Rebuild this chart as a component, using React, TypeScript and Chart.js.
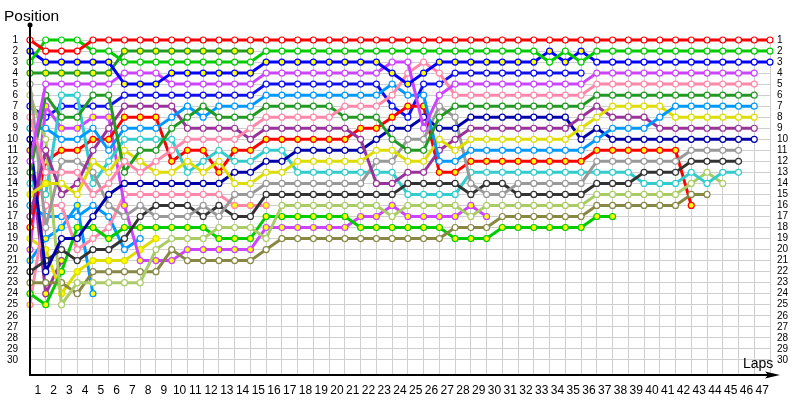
import React, { useEffect, useRef } from "react";
import { Chart, registerables } from "chart.js";
Chart.register(...registerables);

const N = null;

// Lap numbers shown on the x axis
const lapNumbers = [0,1,2,3,4,5,6,7,8,9,10,11,12,13,14,15,16,17,18,19,20,21,22,23,24,25,26,27,28,29,30,31,32,33,34,35,36,37,38,39,40,41,42,43,44,45,46,47];
// Position rows
const positionTicks = [1,2,3,4,5,6,7,8,9,10,11,12,13,14,15,16,17,18,19,20,21,22,23,24,25,26,27,28,29,30];

// Positions per lap (index = lap 0..47)
const R1 = [1,2,2,2,1,1,1,1,1,1, 1,1,1,1,1,1,1,1,1,1, 1,1,1,1,1,1,1,1,1,1, 1,1,1,1,1,1,1,1,1,1, 1,1,1,1,1,1,1,1];
const G1 = [3,1,1,1,2,2,3,3,3,3, 3,3,3,3,3,2,2,2,2,2, 2,2,2,2,2,2,2,2,2,2, 2,2,2,3,2,3,2,2,2,2, 2,2,2,2,2,2,2,2];
const B1 = [2,3,3,3,3,3,5,5,5,4, 4,4,4,4,4,3,3,3,3,3, 3,3,3,4,5,4,3,3,3,3, 3,3,3,2,3,2,3,3,3,3, 3,3,3,3,3,3,3,3];
const M1 = [12,5,5,5,5,5,4,4,4,5, 5,5,5,5,5,4,4,4,4,4, 4,4,4,3,3,9,6,5,5,5, 5,5,5,5,5,5,4,4,4,4, 4,4,4,4,4,4,4,N];
const P1 = [8,13,13,13,15,14,12,13,12,11, 10,10,10,10,9,8,8,8,8,8, 7,7,7,6,4,3,4,6,6,6, 6,6,6,6,6,6,5,5,5,5, 5,5,5,5,5,5,5,N];
const DG1 = [13,6,8,8,6,6,13,11,11,9, 8,7,8,8,8,7,7,7,7,7, 8,8,8,10,11,11,8,7,7,7, 7,7,7,7,7,7,6,6,6,6, 6,6,6,6,6,6,6,N];
const LB1 = [9,9,10,10,9,11,9,9,9,8, 7,8,7,7,7,6,6,6,6,6, 6,6,6,5,6,6,12,12,11,11, 11,11,11,11,11,11,10,9,9,9, 8,7,7,7,7,7,7,N];
const Y1 = [15,14,14,15,12,13,11,12,13,13, 12,13,12,14,14,13,13,12,12,12, 12,12,11,11,12,12,10,11,10,10, 10,10,10,10,10,9,8,7,7,7, 7,8,8,8,8,8,8,N];
const PU1 = [17,11,15,14,11,9,7,7,7,7, 9,9,9,9,10,9,9,9,9,9, 9,10,14,14,13,13,11,10,9,9, 9,9,9,9,9,8,7,8,8,8, 9,9,9,9,9,9,9,N];
const BB = [10,22,19,19,17,15,14,14,14,14, 14,14,14,13,13,12,12,11,11,11, 11,11,10,9,9,8,9,9,8,8, 8,8,8,8,8,10,9,10,10,10, 10,10,10,10,10,10,10,N];
const GR = [5,18,12,12,13,16,17,16,17,17, 17,16,17,15,15,14,14,14,14,14, 14,14,12,12,10,10,7,8,14,15, 15,14,14,14,14,14,12,12,12,12, 12,12,11,11,11,11,N,N];
const BK = [22,21,20,21,20,20,19,17,16,16, 16,17,16,17,17,15,15,15,15,15, 15,15,15,15,14,14,14,14,15,14, 14,15,15,15,15,15,14,14,14,13, 13,13,12,12,12,12,N,N];
const CY = [14,15,6,6,14,12,10,10,10,10, 13,12,11,12,12,11,11,13,13,13, 13,13,13,13,15,15,15,15,13,13, 13,13,13,13,13,13,13,13,13,14, 14,14,13,14,13,13,N,N];
const LG = [6,10,25,23,23,23,23,23,20,19, 19,19,18,18,18,19,16,16,16,16, 16,16,16,17,16,16,16,16,17,16, 16,16,16,16,16,16,15,15,15,15, 15,15,14,13,14,N,N,N];
const OL = [23,23,23,24,22,22,22,22,22,20, 21,21,21,21,21,20,19,19,19,19, 19,19,19,19,19,19,19,18,18,18, 17,17,17,17,17,17,16,16,16,16, 16,16,15,15,N,N,N,N];
const R2 = [18,12,11,11,10,10,8,8,8,12, 11,11,13,11,11,10,10,10,10,10, 10,9,9,8,7,7,13,13,12,12, 12,12,12,12,12,12,11,11,11,11, 11,11,16,N,N,N,N,N];
const G2 = [24,25,22,18,18,19,18,18,18,18, 18,18,19,19,19,17,17,17,17,17, 17,18,18,18,18,18,18,19,19,19, 18,18,18,18,18,18,17,17,N,N, N,N,N,N,N,N,N,N];
const M2 = [20,7,9,9,8,8,16,21,21,21, 20,20,20,20,20,18,18,18,18,18, 18,17,17,16,17,17,17,17,16,17, N,N,N,N,N,N,N,N,N,N, N,N,N,N,N,N,N,N];
const BA = [7,8,7,7,7,7,6,6,6,6, 6,6,6,6,6,5,5,5,5,5, 5,5,5,7,8,5,5,4,4,4, 4,4,4,4,4,4,N,N,N,N, N,N,N,N,N,N,N,N];
const DG2 = [4,4,4,4,4,4,2,2,2,2, 2,2,2,2,2,N,N,N,N,N, N,N,N,N,N,N,N,N,N,N, N,N,N,N,N,N,N,N,N,N, N,N,N,N,N,N,N,N];
const P2 = [25,16,16,20,19,18,15,15,15,15, 15,15,15,16,16,16,N,N,N,N, N,N,N,N,N,N,N,N,N,N, N,N,N,N,N,N,N,N,N,N, N,N,N,N,N,N,N,N];
const Y2 = [19,20,24,22,21,21,21,20,19,N, N,N,N,N,N,N,N,N,N,N, N,N,N,N,N,N,N,N,N,N, N,N,N,N,N,N,N,N,N,N, N,N,N,N,N,N,N,N];
const LB2 = [16,17,17,17,16,17,20,19,N,N, N,N,N,N,N,N,N,N,N,N, N,N,N,N,N,N,N,N,N,N, N,N,N,N,N,N,N,N,N,N, N,N,N,N,N,N,N,N];
const LB3 = [21,19,18,16,24,N,N,N,N,N, N,N,N,N,N,N,N,N,N,N, N,N,N,N,N,N,N,N,N,N, N,N,N,N,N,N,N,N,N,N, N,N,N,N,N,N,N,N];
const PU2 = [11,24,21,N,N,N,N,N,N,N, N,N,N,N,N,N,N,N,N,N, N,N,N,N,N,N,N,N,N,N, N,N,N,N,N,N,N,N,N,N, N,N,N,N,N,N,N,N];

// Series in drawing order (first = on top)
const seriesData = [R1, G1, B1, M1, P1, DG1, LB1, Y1, PU1, BB, GR, BK, CY, LG, OL, R2, G2, M2, BA, DG2, P2, Y2, LB2, LB3, PU2];
const seriesColors = ["#ff0000","#00cc00","#0000ff","#cc44ff","#ff88aa","#229922","#0099ff","#dddd00","#993399","#0000aa","#999999","#333333","#33cccc","#aacc66","#888844","#ff0000","#00cc00","#cc44ff","#1010ee","#229922","#ff88aa","#dddd00","#0099ff","#0099ff","#993399"];
// Laps with yellow-filled markers [from, to] per series
const yellowLaps = [[],[],[[0,35]],[],[],[],[],[[0,1]],[],[],[],[],[],[],[],[[0,47]],[[0,47]],[[0,47]],[],[[0,47]],[[0,0],[13,15]],[[0,47]],[],[[0,47]],[[0,47]]];

const FONT = '"Liberation Sans", Arial, sans-serif';

const axisPlugin = {
  id: "lapAxes",
  afterDraw(chart: any) {
    const { ctx, chartArea: ca } = chart;
    ctx.save();
    ctx.strokeStyle = "#000";
    ctx.fillStyle = "#000";
    ctx.lineWidth = 2;
    ctx.beginPath();
    ctx.moveTo(ca.left, 25);
    ctx.lineTo(ca.left, ca.bottom);
    ctx.lineTo(772, ca.bottom);
    ctx.stroke();
    ctx.beginPath();
    ctx.arc(ca.left, 25, 2.5, 0, Math.PI * 2);
    ctx.fill();
    ctx.beginPath();
    ctx.moveTo(780, ca.bottom);
    ctx.lineTo(765, ca.bottom - 3.5);
    ctx.lineTo(768, ca.bottom);
    ctx.lineTo(765, ca.bottom + 3.5);
    ctx.closePath();
    ctx.fill();
    ctx.font = "15.5px " + FONT;
    ctx.textBaseline = "alphabetic";
    ctx.textAlign = "left";
    ctx.fillText("Position", 4, 21);
    ctx.font = "14px " + FONT;
    ctx.fillText("Laps", 743, 368);
    ctx.restore();
  },
};

export default function App() {
  const ref = useRef<HTMLCanvasElement | null>(null);
  useEffect(() => {
    if (!ref.current) return;
    const datasets = seriesData.map((arr, si) => {
      const color = seriesColors[si];
      const ranges = yellowLaps[si];
      const fills = arr.map((_, lap) =>
        ranges.some((r) => lap >= r[0] && lap <= r[1]) ? "#ffff00" : "#ffffff"
      );
      return {
        data: arr.map((v, lap) => ({ x: lapNumbers[lap], y: v })),
        borderColor: color,
        backgroundColor: color,
        borderWidth: 3,
        pointRadius: 3,
        pointBorderWidth: 1.2,
        pointBorderColor: color,
        pointBackgroundColor: fills,
        tension: 0,
        spanGaps: false,
        clip: false as any,
      };
    });
    const chart = new Chart(ref.current, {
      type: "line",
      data: { datasets: datasets as any },
      plugins: [axisPlugin as any],
      options: {
        animation: false,
        responsive: false,
        devicePixelRatio: 1,
        events: [],
        layout: { padding: { top: 40, left: 0, right: 0, bottom: 0 } },
        plugins: { legend: { display: false }, tooltip: { enabled: false } },
        scales: {
          x: {
            type: "linear",
            position: "bottom",
            min: 0,
            max: 47,
            afterFit: (s: any) => { s.height = 25; },
            afterBuildTicks: (s: any) => { s.ticks = lapNumbers.map((v) => ({ value: v })); },
            grid: { color: "#cfcfcf", lineWidth: 1, drawTicks: false },
            border: { display: false },
            ticks: {
              autoSkip: false,
              maxRotation: 0,
              padding: 8,
              labelOffset: -7.87,
              color: "#000",
              font: { family: FONT, size: 12 },
              callback: (v: any) => (v === 0 ? "" : String(v)),
            },
          },
          y: {
            type: "linear",
            position: "left",
            reverse: true,
            min: 1,
            max: 31.37,
            afterFit: (s: any) => { s.width = 30; },
            afterBuildTicks: (s: any) => { s.ticks = positionTicks.map((v) => ({ value: v })); },
            grid: { color: "#cfcfcf", lineWidth: 1, drawTicks: false },
            border: { display: false },
            ticks: { autoSkip: false, padding: 12, color: "#000", font: { family: FONT, size: 10 } },
          },
          y2: {
            type: "linear",
            position: "right",
            reverse: true,
            min: 1,
            max: 31.37,
            afterFit: (s: any) => { s.width = 30; },
            afterBuildTicks: (s: any) => { s.ticks = positionTicks.map((v) => ({ value: v })); },
            grid: { display: false, drawTicks: false },
            border: { display: false },
            ticks: { autoSkip: false, padding: 7, color: "#000", font: { family: FONT, size: 10 } },
          },
        },
      } as any,
    });
    return () => chart.destroy();
  }, []);
  return (
    <div style={{ position: "fixed", left: 0, top: 0, width: 800, height: 400, background: "#fff" }}>
      <canvas ref={ref} width={800} height={400} style={{ display: "block" }} />
    </div>
  );
}
